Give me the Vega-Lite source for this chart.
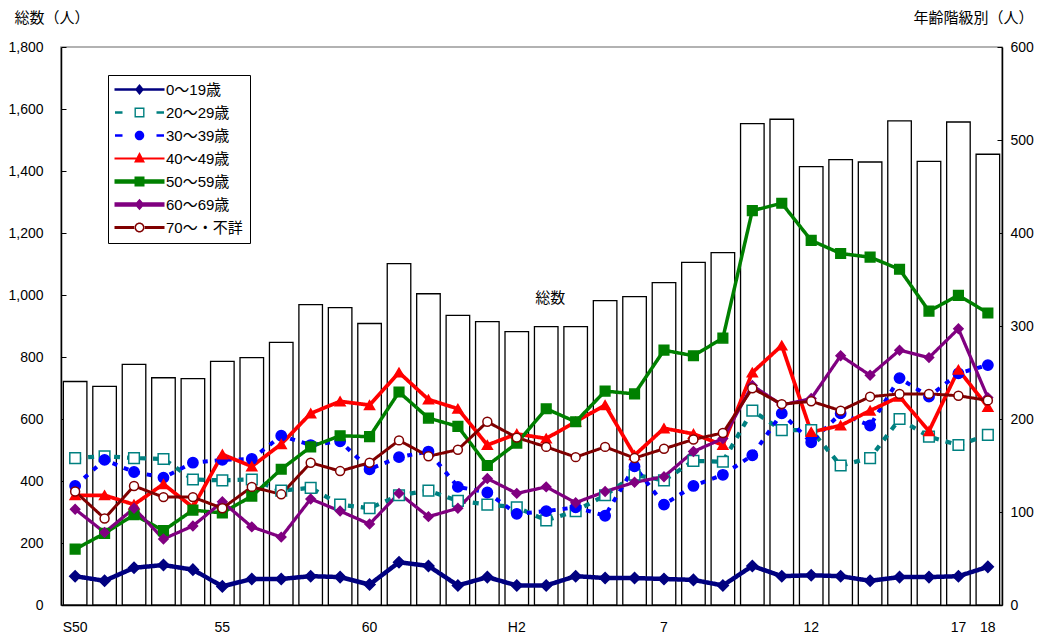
{
  "$schema": "https://vega.github.io/schema/vega-lite/v6.json",
  "width": 941,
  "height": 558,
  "autosize": {"type": "none"},
  "padding": {"left": 61, "top": 47, "right": 46, "bottom": 38},
  "background": "white",
  "config": {
    "font": "Liberation Sans, Noto Sans CJK JP",
    "view": {"stroke": "#999999", "strokeWidth": 1.5},
    "axis": {"grid": false, "domainColor": "#000000", "domainWidth": 1.5, "tickColor": "#000000", "labelColor": "#000000", "labelFontSize": 14, "labelFont": "Liberation Sans, Noto Sans CJK JP", "titleColor": "#000000"}
  },
  "datasets": {
    "totals": [
      {"year":"S50","total":721},{"year":"S51","total":705},{"year":"S52","total":776},{"year":"S53","total":733},
      {"year":"S54","total":730},{"year":"S55","total":786},{"year":"S56","total":798},{"year":"S57","total":847},
      {"year":"S58","total":969},{"year":"S59","total":959},{"year":"S60","total":908},{"year":"S61","total":1101},
      {"year":"S62","total":1004},{"year":"S63","total":934},{"year":"H1","total":914},{"year":"H2","total":882},
      {"year":"H3","total":898},{"year":"H4","total":898},{"year":"H5","total":982},{"year":"H6","total":995},
      {"year":"H7","total":1040},{"year":"H8","total":1105},{"year":"H9","total":1137},{"year":"H10","total":1553},
      {"year":"H11","total":1567},{"year":"H12","total":1414},{"year":"H13","total":1437},{"year":"H14","total":1429},
      {"year":"H15","total":1562},{"year":"H16","total":1431},{"year":"H17","total":1558},{"year":"H18","total":1454}
    ],
    "ages": [
      {"year":"S50","age":"0～19歳","n":31},{"year":"S51","age":"0～19歳","n":26},{"year":"S52","age":"0～19歳","n":40},{"year":"S53","age":"0～19歳","n":43},
      {"year":"S54","age":"0～19歳","n":38},{"year":"S55","age":"0～19歳","n":20},{"year":"S56","age":"0～19歳","n":28},{"year":"S57","age":"0～19歳","n":28},
      {"year":"S58","age":"0～19歳","n":31},{"year":"S59","age":"0～19歳","n":30},{"year":"S60","age":"0～19歳","n":22},{"year":"S61","age":"0～19歳","n":46},
      {"year":"S62","age":"0～19歳","n":42},{"year":"S63","age":"0～19歳","n":21},{"year":"H1","age":"0～19歳","n":30},{"year":"H2","age":"0～19歳","n":21},
      {"year":"H3","age":"0～19歳","n":21},{"year":"H4","age":"0～19歳","n":31},{"year":"H5","age":"0～19歳","n":29},{"year":"H6","age":"0～19歳","n":29},
      {"year":"H7","age":"0～19歳","n":28},{"year":"H8","age":"0～19歳","n":27},{"year":"H9","age":"0～19歳","n":21},{"year":"H10","age":"0～19歳","n":42},
      {"year":"H11","age":"0～19歳","n":31},{"year":"H12","age":"0～19歳","n":32},{"year":"H13","age":"0～19歳","n":31},{"year":"H14","age":"0～19歳","n":26},
      {"year":"H15","age":"0～19歳","n":30},{"year":"H16","age":"0～19歳","n":30},{"year":"H17","age":"0～19歳","n":31},{"year":"H18","age":"0～19歳","n":41},

      {"year":"S50","age":"20～29歳","n":158},{"year":"S51","age":"20～29歳","n":160},{"year":"S52","age":"20～29歳","n":158},{"year":"S53","age":"20～29歳","n":157},
      {"year":"S54","age":"20～29歳","n":135},{"year":"S55","age":"20～29歳","n":134},{"year":"S56","age":"20～29歳","n":135},{"year":"S57","age":"20～29歳","n":123},
      {"year":"S58","age":"20～29歳","n":126},{"year":"S59","age":"20～29歳","n":108},{"year":"S60","age":"20～29歳","n":104},{"year":"S61","age":"20～29歳","n":118},
      {"year":"S62","age":"20～29歳","n":123},{"year":"S63","age":"20～29歳","n":112},{"year":"H1","age":"20～29歳","n":108},{"year":"H2","age":"20～29歳","n":105},
      {"year":"H3","age":"20～29歳","n":91},{"year":"H4","age":"20～29歳","n":101},{"year":"H5","age":"20～29歳","n":118},{"year":"H6","age":"20～29歳","n":140},
      {"year":"H7","age":"20～29歳","n":134},{"year":"H8","age":"20～29歳","n":155},{"year":"H9","age":"20～29歳","n":154},{"year":"H10","age":"20～29歳","n":209},
      {"year":"H11","age":"20～29歳","n":188},{"year":"H12","age":"20～29歳","n":188},{"year":"H13","age":"20～29歳","n":150},{"year":"H14","age":"20～29歳","n":158},
      {"year":"H15","age":"20～29歳","n":200},{"year":"H16","age":"20～29歳","n":181},{"year":"H17","age":"20～29歳","n":172},{"year":"H18","age":"20～29歳","n":183},

      {"year":"S50","age":"30～39歳","n":128},{"year":"S51","age":"30～39歳","n":156},{"year":"S52","age":"30～39歳","n":143},{"year":"S53","age":"30～39歳","n":137},
      {"year":"S54","age":"30～39歳","n":153},{"year":"S55","age":"30～39歳","n":156},{"year":"S56","age":"30～39歳","n":157},{"year":"S57","age":"30～39歳","n":182},
      {"year":"S58","age":"30～39歳","n":172},{"year":"S59","age":"30～39歳","n":176},{"year":"S60","age":"30～39歳","n":146},{"year":"S61","age":"30～39歳","n":159},
      {"year":"S62","age":"30～39歳","n":165},{"year":"S63","age":"30～39歳","n":127},{"year":"H1","age":"30～39歳","n":121},{"year":"H2","age":"30～39歳","n":98},
      {"year":"H3","age":"30～39歳","n":101},{"year":"H4","age":"30～39歳","n":105},{"year":"H5","age":"30～39歳","n":96},{"year":"H6","age":"30～39歳","n":149},
      {"year":"H7","age":"30～39歳","n":108},{"year":"H8","age":"30～39歳","n":128},{"year":"H9","age":"30～39歳","n":140},{"year":"H10","age":"30～39歳","n":161},
      {"year":"H11","age":"30～39歳","n":206},{"year":"H12","age":"30～39歳","n":175},{"year":"H13","age":"30～39歳","n":206},{"year":"H14","age":"30～39歳","n":193},
      {"year":"H15","age":"30～39歳","n":244},{"year":"H16","age":"30～39歳","n":224},{"year":"H17","age":"30～39歳","n":249},{"year":"H18","age":"30～39歳","n":258},

      {"year":"S50","age":"40～49歳","n":118},{"year":"S51","age":"40～49歳","n":118},{"year":"S52","age":"40～49歳","n":108},{"year":"S53","age":"40～49歳","n":130},
      {"year":"S54","age":"40～49歳","n":105},{"year":"S55","age":"40～49歳","n":162},{"year":"S56","age":"40～49歳","n":149},{"year":"S57","age":"40～49歳","n":173},
      {"year":"S58","age":"40～49歳","n":206},{"year":"S59","age":"40～49歳","n":219},{"year":"S60","age":"40～49歳","n":215},{"year":"S61","age":"40～49歳","n":250},
      {"year":"S62","age":"40～49歳","n":221},{"year":"S63","age":"40～49歳","n":211},{"year":"H1","age":"40～49歳","n":172},{"year":"H2","age":"40～49歳","n":184},
      {"year":"H3","age":"40～49歳","n":179},{"year":"H4","age":"40～49歳","n":197},{"year":"H5","age":"40～49歳","n":215},{"year":"H6","age":"40～49歳","n":161},
      {"year":"H7","age":"40～49歳","n":190},{"year":"H8","age":"40～49歳","n":184},{"year":"H9","age":"40～49歳","n":172},{"year":"H10","age":"40～49歳","n":250},
      {"year":"H11","age":"40～49歳","n":279},{"year":"H12","age":"40～49歳","n":186},{"year":"H13","age":"40～49歳","n":193},{"year":"H14","age":"40～49歳","n":209},
      {"year":"H15","age":"40～49歳","n":224},{"year":"H16","age":"40～49歳","n":187},{"year":"H17","age":"40～49歳","n":253},{"year":"H18","age":"40～49歳","n":213},

      {"year":"S50","age":"50～59歳","n":60},{"year":"S51","age":"50～59歳","n":77},{"year":"S52","age":"50～59歳","n":97},{"year":"S53","age":"50～59歳","n":80},
      {"year":"S54","age":"50～59歳","n":102},{"year":"S55","age":"50～59歳","n":99},{"year":"S56","age":"50～59歳","n":117},{"year":"S57","age":"50～59歳","n":146},
      {"year":"S58","age":"50～59歳","n":170},{"year":"S59","age":"50～59歳","n":182},{"year":"S60","age":"50～59歳","n":181},{"year":"S61","age":"50～59歳","n":229},
      {"year":"S62","age":"50～59歳","n":201},{"year":"S63","age":"50～59歳","n":192},{"year":"H1","age":"50～59歳","n":150},{"year":"H2","age":"50～59歳","n":174},
      {"year":"H3","age":"50～59歳","n":211},{"year":"H4","age":"50～59歳","n":197},{"year":"H5","age":"50～59歳","n":230},{"year":"H6","age":"50～59歳","n":227},
      {"year":"H7","age":"50～59歳","n":274},{"year":"H8","age":"50～59歳","n":268},{"year":"H9","age":"50～59歳","n":287},{"year":"H10","age":"50～59歳","n":424},
      {"year":"H11","age":"50～59歳","n":432},{"year":"H12","age":"50～59歳","n":392},{"year":"H13","age":"50～59歳","n":378},{"year":"H14","age":"50～59歳","n":374},
      {"year":"H15","age":"50～59歳","n":361},{"year":"H16","age":"50～59歳","n":316},{"year":"H17","age":"50～59歳","n":333},{"year":"H18","age":"50～59歳","n":314},

      {"year":"S50","age":"60～69歳","n":103},{"year":"S51","age":"60～69歳","n":78},{"year":"S52","age":"60～69歳","n":104},{"year":"S53","age":"60～69歳","n":71},
      {"year":"S54","age":"60～69歳","n":85},{"year":"S55","age":"60～69歳","n":111},{"year":"S56","age":"60～69歳","n":84},{"year":"S57","age":"60～69歳","n":73},
      {"year":"S58","age":"60～69歳","n":114},{"year":"S59","age":"60～69歳","n":101},{"year":"S60","age":"60～69歳","n":87},{"year":"S61","age":"60～69歳","n":120},
      {"year":"S62","age":"60～69歳","n":95},{"year":"S63","age":"60～69歳","n":104},{"year":"H1","age":"60～69歳","n":136},{"year":"H2","age":"60～69歳","n":120},
      {"year":"H3","age":"60～69歳","n":127},{"year":"H4","age":"60～69歳","n":110},{"year":"H5","age":"60～69歳","n":122},{"year":"H6","age":"60～69歳","n":132},
      {"year":"H7","age":"60～69歳","n":138},{"year":"H8","age":"60～69歳","n":165},{"year":"H9","age":"60～69歳","n":179},{"year":"H10","age":"60～69歳","n":236},
      {"year":"H11","age":"60～69歳","n":215},{"year":"H12","age":"60～69歳","n":222},{"year":"H13","age":"60～69歳","n":268},{"year":"H14","age":"60～69歳","n":247},
      {"year":"H15","age":"60～69歳","n":274},{"year":"H16","age":"60～69歳","n":266},{"year":"H17","age":"60～69歳","n":297},{"year":"H18","age":"60～69歳","n":223},

      {"year":"S50","age":"70～・不詳","n":122},{"year":"S51","age":"70～・不詳","n":93},{"year":"S52","age":"70～・不詳","n":128},{"year":"S53","age":"70～・不詳","n":116},
      {"year":"S54","age":"70～・不詳","n":116},{"year":"S55","age":"70～・不詳","n":104},{"year":"S56","age":"70～・不詳","n":127},{"year":"S57","age":"70～・不詳","n":119},
      {"year":"S58","age":"70～・不詳","n":153},{"year":"S59","age":"70～・不詳","n":144},{"year":"S60","age":"70～・不詳","n":153},{"year":"S61","age":"70～・不詳","n":177},
      {"year":"S62","age":"70～・不詳","n":160},{"year":"S63","age":"70～・不詳","n":167},{"year":"H1","age":"70～・不詳","n":197},{"year":"H2","age":"70～・不詳","n":180},
      {"year":"H3","age":"70～・不詳","n":170},{"year":"H4","age":"70～・不詳","n":159},{"year":"H5","age":"70～・不詳","n":170},{"year":"H6","age":"70～・不詳","n":158},
      {"year":"H7","age":"70～・不詳","n":168},{"year":"H8","age":"70～・不詳","n":178},{"year":"H9","age":"70～・不詳","n":185},{"year":"H10","age":"70～・不詳","n":233},
      {"year":"H11","age":"70～・不詳","n":216},{"year":"H12","age":"70～・不詳","n":219},{"year":"H13","age":"70～・不詳","n":209},{"year":"H14","age":"70～・不詳","n":224},
      {"year":"H15","age":"70～・不詳","n":227},{"year":"H16","age":"70～・不詳","n":227},{"year":"H17","age":"70～・不詳","n":225},{"year":"H18","age":"70～・不詳","n":220}
    ]
  },
  "encoding": {
    "x": {
      "field": "year",
      "type": "ordinal",
      "sort": ["S50","S51","S52","S53","S54","S55","S56","S57","S58","S59","S60","S61","S62","S63","H1","H2","H3","H4","H5","H6","H7","H8","H9","H10","H11","H12","H13","H14","H15","H16","H17","H18"],
      "scale": {"paddingInner": 0.2, "paddingOuter": 0.08},
      "axis": {
        "title": null,
        "labelAngle": 0,
        "labelOverlap": false,
        "ticks": false,
        "labelPadding": 15,
        "labelExpr": "datum.value == 'S50' || datum.value == 'H2' ? datum.value : (indexof(['S55','S60','H7','H12','H17','H18'], datum.value) >= 0 ? substring(datum.value, 1) : '')"
      }
    }
  },
  "layer": [
    {
      "encoding": {
        "y": {
          "field": "total",
          "type": "quantitative",
          "scale": {"domain": [0, 1800], "nice": false},
          "axis": {
            "orient": "left",
            "values": [0,200,400,600,800,1000,1200,1400,1600,1800],
            "format": ",d",
            "tickSize": -5,
            "labelPadding": 23,
            "title": "総数（人）",
            "titleAngle": 0,
            "titleAlign": "left",
            "titleBaseline": "middle",
            "titleX": -47,
            "titleY": -30,
            "titleFontSize": 15,
            "titleFontWeight": "normal",
            "titleFont": "Noto Sans CJK JP"
          }
        }
      },
      "layer": [
        {
          "data": {"name": "totals"},
          "mark": {"type": "bar", "fill": "white", "stroke": "black", "strokeWidth": 1.3}
        },
        {
          "data": {"values": [{"year": "H3", "total": 990, "label": "総数"}]},
          "mark": {"type": "text", "fontSize": 15, "dx": 4, "font": "Noto Sans CJK JP", "color": "black", "baseline": "middle"},
          "encoding": {"text": {"field": "label"}}
        }
      ]
    },
    {
      "data": {"name": "ages"},
      "encoding": {
        "y": {
          "field": "n",
          "type": "quantitative",
          "scale": {"domain": [0, 600], "nice": false},
          "axis": {
            "orient": "right",
            "values": [0,100,200,300,400,500,600],
            "tickSize": -5,
            "labelPadding": 13,
            "title": "年齢階級別（人）",
            "titleAngle": 0,
            "titleAlign": "left",
            "titleBaseline": "middle",
            "titleX": -89,
            "titleY": -30,
            "titleFontSize": 15,
            "titleFontWeight": "normal",
            "titleFont": "Noto Sans CJK JP"
          }
        }
      },
      "layer": [
        {
          "mark": {"type": "line"},
          "encoding": {
            "color": {
              "field": "age",
              "type": "nominal",
              "scale": {
                "domain": ["0～19歳","20～29歳","30～39歳","40～49歳","50～59歳","60～69歳","70～・不詳"],
                "range": ["#000080","#008080","#0000FF","#FF0000","#008000","#800080","#800000"]
              },
              "legend": {
                "title": null,
                "orient": "none",
                "legendX": 47,
                "legendY": 28,
                "strokeColor": "black",
                "fillColor": "white",
                "padding": 7,
                "symbolSize": 100,
                "symbolOffset": 17,
                "labelOffset": 19,
                "labelFontSize": 15,
                "labelFont": "Liberation Sans, Noto Sans CJK JP",
                "labelColor": "black",
                "labelLimit": 200,
                "rowPadding": 7,
                "encode": {
                  "symbols": {
                    "update": {
                      "shape": {"signal": "datum.value == '0～19歳' ? 'M-5,-0.25L5,-0.25L5,0.25L-5,0.25ZM0,-1.1L0.9,0L0,1.1L-0.9,0Z' : datum.value == '20～29歳' ? 'M-4.9,-0.25L-3.4,-0.25L-3.4,0.25L-4.9,0.25ZM3.4,-0.25L4.9,-0.25L4.9,0.25L3.4,0.25ZM-1,-1L1,-1L1,1L-1,1ZM-0.72,-0.72L-0.72,0.72L0.72,0.72L0.72,-0.72Z' : datum.value == '30～39歳' ? 'M-4.9,-0.25L-3.4,-0.25L-3.4,0.25L-4.9,0.25ZM3.4,-0.25L4.9,-0.25L4.9,0.25L3.4,0.25ZM-0.95,0A0.95,0.95 0 1,0 0.95,0A0.95,0.95 0 1,0 -0.95,0Z' : datum.value == '40～49歳' ? 'M-5,-0.2L5,-0.2L5,0.2L-5,0.2ZM0,-1.3L1.1,0.8L-1.1,0.8Z' : datum.value == '50～59歳' ? 'M-5,-0.45L5,-0.45L5,0.45L-5,0.45ZM-1,-1L1,-1L1,1L-1,1Z' : datum.value == '60～69歳' ? 'M-5,-0.45L5,-0.45L5,0.45L-5,0.45ZM0,-1.15L1,0L0,1.15L-1,0Z' : 'M-5,-0.3L-0.9,-0.3L-0.9,0.3L-5,0.3ZM0.9,-0.3L5,-0.3L5,0.3L0.9,0.3ZM-1,0A1,1 0 1,0 1,0A1,1 0 1,0 -1,0ZM-0.7,0A0.7,0.7 0 1,1 0.7,0A0.7,0.7 0 1,1 -0.7,0Z'"},
                      "fill": {"signal": "datum.value == '0～19歳' ? '#000080' : datum.value == '20～29歳' ? '#008080' : datum.value == '30～39歳' ? '#0000FF' : datum.value == '40～49歳' ? '#FF0000' : datum.value == '50～59歳' ? '#008000' : datum.value == '60～69歳' ? '#800080' : '#800000'"},
                      "strokeWidth": {"value": 0},
                      "fillOpacity": {"value": 1},
                      "opacity": {"value": 1}
                    }
                  }
                }
              }
            },
            "strokeDash": {
              "field": "age",
              "type": "nominal",
              "scale": {
                "domain": ["70～・不詳","60～69歳","50～59歳","40～49歳","30～39歳","20～29歳","0～19歳"],
                "range": [[1,0],[1,0],[1,0],[1,0],[5,7],[6,7],[1,0]]
              },
              "legend": null
            },
            "strokeWidth": {
              "field": "age",
              "type": "nominal",
              "scale": {
                "domain": ["70～・不詳","60～69歳","50～59歳","40～49歳","30～39歳","20～29歳","0～19歳"],
                "range": [3, 4.5, 4.5, 2.5, 3, 3, 3]
              },
              "legend": null
            }
          }
        },
        {
          "mark": {"type": "point", "opacity": 1, "strokeWidth": 1.5},
          "encoding": {
            "shape": {
              "field": "age",
              "type": "nominal",
              "scale": {
                "domain": ["70～・不詳","60～69歳","50～59歳","40～49歳","30～39歳","20～29歳","0～19歳"],
                "range": ["circle","diamond","square","triangle-up","circle","square","diamond"]
              },
              "legend": null
            },
            "fill": {
              "field": "age",
              "type": "nominal",
              "scale": {
                "domain": ["70～・不詳","60～69歳","50～59歳","40～49歳","30～39歳","20～29歳","0～19歳"],
                "range": ["#FFFFFF","#800080","#008000","#FF0000","#0000FF","#FFFFFF","#000080"]
              },
              "legend": null
            },
            "stroke": {
              "field": "age",
              "type": "nominal",
              "scale": {
                "domain": ["70～・不詳","60～69歳","50～59歳","40～49歳","30～39歳","20～29歳","0～19歳"],
                "range": ["#800000","#800080","#008000","#FF0000","#0000FF","#008080","#000080"]
              },
              "legend": null
            },
            "size": {
              "field": "age",
              "type": "nominal",
              "scale": {
                "domain": ["70～・不詳","60～69歳","50～59歳","40～49歳","30～39歳","20～29歳","0～19歳"],
                "range": [80, 120, 90, 110, 90, 70, 110]
              },
              "legend": null
            }
          }
        }
      ]
    }
  ],
  "resolve": {"scale": {"y": "independent"}}
}
